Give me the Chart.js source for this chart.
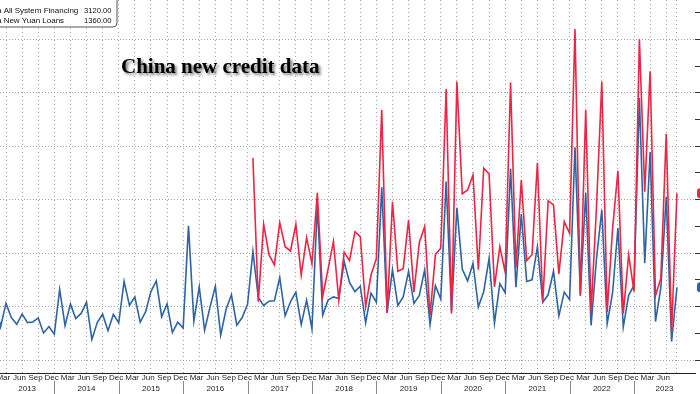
<!DOCTYPE html>
<html>
<head>
<meta charset="utf-8">
<script src="https://cdn.jsdelivr.net/npm/chart.js@4.4.0/dist/chart.umd.min.js"></script>
<style>
  html, body { margin: 0; padding: 0; background: #fff; }
  #wrap { width: 700px; height: 394px; }
</style>
</head>
<body>
<div id="wrap"><canvas id="grafico" width="700" height="394"></canvas></div>
<script>
// monthly flows, bn yuan (month-end points)
var loansStart = '2013-01';
var newYuanLoans = [
    1070, 620, 1063, 792, 667, 860, 700, 711, 787, 506, 625, 483,
    1320, 644, 1050, 775, 871, 1080, 385, 702, 857, 548, 853, 697,
    1470, 1020, 1180, 708, 901, 1280, 1480, 810, 1050, 514, 709, 598,
    2510, 727, 1370, 556, 985, 1380, 464, 949, 1220, 651, 795, 1040,
    2030, 1170, 1020, 1100, 1110, 1540, 826, 1090, 1270, 663, 1120, 584,
    2900, 839, 1120, 1180, 1150, 1840, 1450, 1280, 1380, 697, 1250, 1080,
    3230, 886, 1690, 1020, 1180, 1660, 1060, 1210, 1690, 661, 1390, 1140,
    3340, 906, 2850, 1700, 1480, 1810, 992, 1280, 1900, 689, 1430, 1260,
    3580, 1360, 2730, 1470, 1500, 2120, 1080, 1220, 1660, 826, 1270, 1130,
    3980, 1230, 3130, 645, 1890, 2810, 679, 1250, 2470, 615, 1210, 1400,
    4900, 1810, 3890, 719, 1360, 3050, 346, 1360
];

var financingStart = '2017-01';
var allSystemFinancing = [
    3780, 1090, 2540, 1970, 1780, 2570, 2120, 2040, 2540, 1590, 2290, 1800,
    3130, 1190, 1700, 2220, 1120, 2020, 1860, 2400, 2310, 1000, 1590, 1900,
    4680, 880, 2960, 1660, 1710, 2620, 1270, 2200, 2500, 830, 1975, 2090,
    5070, 870, 5210, 3110, 3180, 3460, 1690, 3590, 3480, 1370, 2120, 1640,
    5190, 1720, 3370, 1860, 1970, 3690, 1090, 2980, 2900, 1610, 2590, 2370,
    6190, 1200, 4680, 900, 2850, 5210, 900, 2450, 3540, 870, 1970, 1280,
    6000, 3150, 5400, 1200, 1530, 4230, 530, 3120
];

var seriesNames = ['China All System Financing', 'China New Yuan Loans'];
var monthLabels = ['Mar', 'Jun', 'Sep', 'Dec'];
var yearLabels = ['2013', '2014', '2015', '2016', '2017', '2018', '2019', '2020', '2021', '2022', '2023'];
var yTicks = [0, 500, 1000, 1500, 2000, 2500, 3000, 3500, 4000, 4500, 5000, 5500, 6000, 6500];
var titulo = 'China new credit data';

var ROJO = '#ee2445';
var AZUL = '#2f64a3';

/* month index: 0 = end of Dec 2012, 1 = end of Jan 2013 ... */
function indiceMes(s) {
    var p = s.split('-');
    return (parseInt(p[0], 10) - 2013) * 12 + parseInt(p[1], 10);
}
function aPuntos(inicio, valores) {
    var s = indiceMes(inicio);
    return valores.map(function (v, k) { return { x: s + k, y: v }; });
}

var puntosPrestamos = aPuntos(loansStart, newYuanLoans);
var puntosFinanciacion = aPuntos(financingStart, allSystemFinancing);
var ultimo = puntosPrestamos[puntosPrestamos.length - 1].x;

var marcasX = [];
for (var q = 3; q <= ultimo; q += 3) marcasX.push(q);
if (marcasX[marcasX.length - 1] !== ultimo) marcasX.push(ultimo);

var decoracion = {
    id: 'decoracion',
    afterDraw: function (chart) {
        var ctx = chart.ctx, sx = chart.scales.x, sy = chart.scales.y, area = chart.chartArea;
        ctx.save();

        // month + year labels
        ctx.font = '8px "Liberation Sans"';
        ctx.fillStyle = '#1e1e1e';
        ctx.textAlign = 'center';
        ctx.textBaseline = 'middle';
        yearLabels.forEach(function (yr, k) {
            monthLabels.forEach(function (m, j) {
                var fin = 12 * k + 3 * (j + 1);
                if (fin > ultimo) return;
                ctx.fillText(m, sx.getPixelForValue(fin - 0.5), 378);
            });
            var a = Math.max(area.left, sx.getPixelForValue(12 * k));
            var b = Math.min(area.right, sx.getPixelForValue(12 * k + 12));
            ctx.fillText(yr, (a + b) / 2, 389);
        });

        // year separators
        ctx.strokeStyle = '#8a8a8a';
        ctx.lineWidth = 1;
        for (var k = 1; k < yearLabels.length; k++) {
            var px = Math.round(sx.getPixelForValue(12 * k)) + 0.5;
            ctx.beginPath();
            ctx.moveTo(px, 381);
            ctx.lineTo(px, 394);
            ctx.stroke();
        }

        // last value tags on the right edge
        chart.data.datasets.forEach(function (ds) {
            var v = ds.data[ds.data.length - 1].y;
            var py = sy.getPixelForValue(v);
            ctx.fillStyle = ds.borderColor;
            ctx.beginPath();
            ctx.roundRect(697, py - 5, 12, 10, 3);
            ctx.fill();
        });

        // legend box
        ctx.fillStyle = '#fff';
        ctx.strokeStyle = '#555';
        ctx.beginPath();
        ctx.roundRect(-8, -8, 125, 35, 4);
        ctx.fill();
        ctx.stroke();
        ctx.fillStyle = '#111';
        chart.data.datasets.forEach(function (ds, i) {
            var yy = 11 + i * 9.5;
            ctx.font = '8px "Liberation Sans"';
            ctx.textAlign = 'left';
            ctx.fillText(ds.label, -19.5, yy);
            ctx.font = '7.6px "Liberation Sans"';
            ctx.textAlign = 'right';
            ctx.fillText(ds.data[ds.data.length - 1].y.toFixed(2), 111.5, yy);
        });

        // title
        ctx.font = 'bold 21px "Liberation Serif"';
        ctx.textAlign = 'left';
        ctx.textBaseline = 'alphabetic';
        ctx.shadowColor = 'rgba(0,0,0,0.55)';
        ctx.shadowOffsetX = 2;
        ctx.shadowOffsetY = 2;
        ctx.shadowBlur = 3;
        ctx.fillStyle = '#000';
        ctx.fillText(titulo, 121, 73);

        ctx.restore();
    }
};

var grafico = new Chart(document.getElementById('grafico'), {
    type: 'line',
    data: {
        datasets: [
            {
                label: seriesNames[0],
                data: puntosFinanciacion,
                borderColor: ROJO,
                borderWidth: 1.6,
                pointRadius: 0,
                tension: 0,
                order: 0
            },
            {
                label: seriesNames[1],
                data: puntosPrestamos,
                borderColor: AZUL,
                borderWidth: 1.6,
                pointRadius: 0,
                tension: 0,
                order: 1
            }
        ]
    },
    options: {
        responsive: false,
        animation: false,
        devicePixelRatio: 1,
        layout: { padding: { top: 0, left: 0, right: 0, bottom: 21 } },
        plugins: { legend: { display: false }, tooltip: { enabled: false } },
        scales: {
            x: {
                type: 'linear',
                min: 1.882,
                max: 131.36,
                afterBuildTicks: function (s) { s.ticks = marcasX.map(function (v) { return { value: v }; }); },
                ticks: { display: false },
                grid: { color: '#a8a8a8', drawTicks: false },
                border: { display: true, color: '#222', width: 1, dash: [1, 3] }
            },
            y: {
                position: 'right',
                min: -243,
                max: 6735,
                afterBuildTicks: function (s) { s.ticks = yTicks.map(function (v) { return { value: v }; }); },
                ticks: { display: false },
                grid: {
                    color: function (c) { return c.tick && c.tick.value % 1000 === 0 ? '#a0a0a0' : 'rgba(0,0,0,0)'; },
                    drawTicks: true,
                    tickLength: 5,
                    tickColor: '#333'
                },
                border: { display: false, dash: [1, 2] }
            }
        }
    },
    plugins: [decoracion]
});
</script>
</body>
</html>
